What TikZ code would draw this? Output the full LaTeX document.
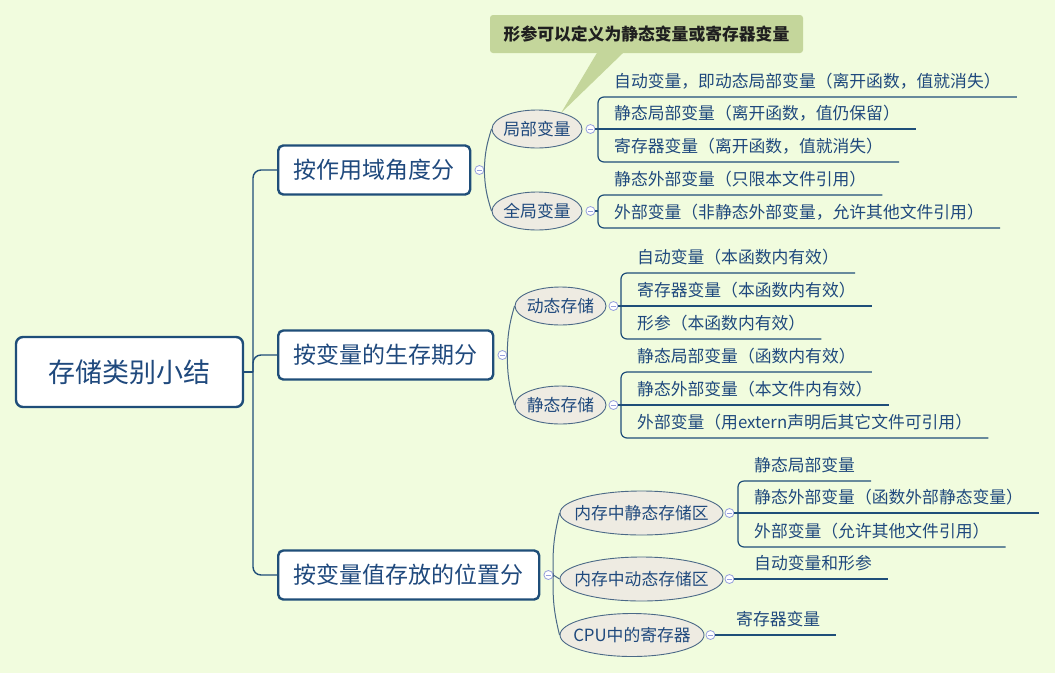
\documentclass[tikz,border=0pt]{standalone}
\usepackage{fontspec}
\usepackage{tikz}
\usetikzlibrary{shapes.geometric}
\newfontfamily\cjk{Noto Sans CJK SC}
\definecolor{bgcream}{RGB}{241,252,222}
\definecolor{deepblue}{RGB}{31,78,121}
\definecolor{inkblue}{RGB}{31,73,125}
\definecolor{slateline}{RGB}{75,105,135}
\definecolor{paperbeige}{RGB}{238,235,226}
\definecolor{calloutgreen}{RGB}{196,214,155}
\definecolor{foldblue}{RGB}{150,160,220}

\tikzset{
  rootbox/.style={draw=deepblue, line width=2.4pt, fill=white, rounded corners=7pt, text=inkblue,
    font=\cjk\fontsize{27}{30}\selectfont, minimum width=227pt, minimum height=70pt, inner sep=0pt},
  topicbox/.style={draw=deepblue, line width=2.4pt, fill=white, rounded corners=5pt, text=inkblue,
    font=\cjk\fontsize{23}{26}\selectfont, inner xsep=15.5pt, minimum height=49pt, anchor=west},
  subellipse/.style={ellipse, draw=slateline, line width=0.9pt, fill=paperbeige, text=inkblue,
    font=\cjk\fontsize{16.8}{19}\selectfont, inner xsep=-10pt, inner ysep=0pt, minimum height=38pt},
  leaf/.style={anchor=south west, text=inkblue, font=\cjk\fontsize{16.8}{19}\selectfont,
    text height=13pt, text depth=3pt, inner xsep=16pt, inner ysep=6.5pt},
  foldmark/.style={circle, draw=foldblue, fill=white, line width=0.8pt, minimum size=9pt, inner sep=0pt,
    path picture={\draw[foldblue, line width=0.8pt] ([xshift=-2.5pt]path picture bounding box.center)
      -- ([xshift=2.5pt]path picture bounding box.center);}},
  trunk/.style={deepblue, line width=1.4pt},
  twig/.style={slateline, line width=1pt},
  bracket/.style={deepblue, line width=1.2pt},
}

\begin{document}
\begin{tikzpicture}[x=1pt,y=-1pt]
\useasboundingbox (0,0) rectangle (1055,673);
\fill[bgcream] (0,0) rectangle (1055,673);

% root and main branches
\node[rootbox] (root) at (129.5,372) {存储类别小结};
\node[topicbox] (scopebox) at (277,170) {按作用域角度分};
\node[topicbox] (lifebox) at (277,355) {按变量的生存期分};
\node[topicbox] (placebox) at (277,575) {按变量值存放的位置分};

\coordinate (hub) at (253,372);
\draw[trunk] (root.east) -- (hub);
\draw[trunk, rounded corners=8pt] (hub) |- (scopebox.west);
\draw[trunk, rounded corners=8pt] (hub) |- (lifebox.west);
\draw[trunk, rounded corners=8pt] (hub) |- (placebox.west);

\node[foldmark] (scopefold) at ([xshift=8pt]scopebox.east) {};
\node[foldmark] (lifefold) at ([xshift=8pt]lifebox.east) {};
\node[foldmark] (placefold) at ([xshift=8pt]placebox.east) {};

% callout
\node[fill=calloutgreen, rounded corners=3pt, text=black!88, font=\cjk\bfseries\fontsize{16.8}{19}\selectfont,
  minimum width=313pt, minimum height=38pt, inner sep=0pt] (note) at (646.5,34) {形参可以定义为静态变量或寄存器变量};
\coordinate (notetip) at (561,113);
\fill[calloutgreen] ([xshift=107pt]note.south west) -- ([xshift=133pt]note.south west) -- (notetip) -- cycle;

% second level
\node[subellipse, minimum width=90pt] (localvar) at (537,129) {局部变量};
\node[subellipse, minimum width=90pt] (globalvar) at (537,211) {全局变量};
\node[subellipse, minimum width=91pt] (dynstore) at (560.5,306) {动态存储};
\node[subellipse, minimum width=91pt] (statstore) at (560.5,405) {静态存储};
\node[subellipse, minimum width=163pt, minimum height=44pt] (statarea) at (641.5,513) {内存中静态存储区};
\node[subellipse, minimum width=163pt, minimum height=44pt] (dynarea) at (641.5,579) {内存中动态存储区};
\node[subellipse, minimum width=144pt, minimum height=43pt] (cpureg) at (632,635) {CPU中的寄存器};

\draw[twig] (scopefold.east) to[bend left=8] (localvar.west);
\draw[twig] (scopefold.east) to[bend right=8] (globalvar.west);
\draw[twig] (lifefold.east) to[bend left=8] (dynstore.west);
\draw[twig] (lifefold.east) to[bend right=8] (statstore.west);
\draw[twig] (placefold.east) to[bend left=8] (statarea.west);
\draw[twig] (placefold.east) -- (dynarea.west);
\draw[twig] (placefold.east) to[bend right=8] (cpureg.west);

\node[foldmark] (localfold) at ([xshift=8pt]localvar.east) {};
\node[foldmark] (globalfold) at ([xshift=8pt]globalvar.east) {};
\node[foldmark] (dynfold) at ([xshift=7pt]dynstore.east) {};
\node[foldmark] (statfold) at ([xshift=7pt]statstore.east) {};
\node[foldmark] (statareafold) at ([xshift=6pt]statarea.east) {};
\node[foldmark] (dynareafold) at ([xshift=6pt]dynarea.east) {};
\node[foldmark] (cpufold) at ([xshift=6pt]cpureg.east) {};

% leaves
\node[leaf] (autolocal) at (598,97) {自动变量，即动态局部变量（离开函数，值就消失）};
\node[leaf] (staticlocal) at (598,129) {静态局部变量（离开函数，值仍保留）};
\node[leaf] (reglocal) at (598,162) {寄存器变量（离开函数，值就消失）};
\node[leaf] (staticext) at (598,195) {静态外部变量（只限本文件引用）};
\node[leaf] (plainext) at (598,228) {外部变量（非静态外部变量，允许其他文件引用）};

\node[leaf] (autolife) at (621,273) {自动变量（本函数内有效）};
\node[leaf] (reglife) at (621,306) {寄存器变量（本函数内有效）};
\node[leaf] (paramlife) at (621,339) {形参（本函数内有效）};
\node[leaf] (statlocallife) at (621,372) {静态局部变量（函数内有效）};
\node[leaf] (statextlife) at (621,405) {静态外部变量（本文件内有效）};
\node[leaf] (externlife) at (621,438) {外部变量（用extern声明后其它文件可引用）};

\node[leaf] (arealocal) at (738,481) {静态局部变量};
\node[leaf] (areastatext) at (738,513) {静态外部变量（函数外部静态变量）};
\node[leaf] (areaext) at (738,547) {外部变量（允许其他文件引用）};
\node[leaf] (areaauto) at (738,579) {自动变量和形参};
\node[leaf] (areareg) at (720,635) {寄存器变量};

% brackets and underlines
\draw[bracket] (localfold.east) -- (staticlocal.south east);
\draw[bracket, rounded corners=6pt] (localfold.east -| autolocal.south west) |- (autolocal.south east);
\draw[bracket, rounded corners=6pt] (localfold.east -| reglocal.south west) |- (reglocal.south east);

\draw[bracket] (globalfold.east) -- (globalfold.east -| staticext.south west);
\draw[bracket, rounded corners=6pt] (globalfold.east -| staticext.south west) |- (staticext.south east);
\draw[bracket, rounded corners=6pt] (globalfold.east -| plainext.south west) |- (plainext.south east);

\draw[bracket] (dynfold.east) -- (reglife.south east);
\draw[bracket, rounded corners=6pt] (dynfold.east -| autolife.south west) |- (autolife.south east);
\draw[bracket, rounded corners=6pt] (dynfold.east -| paramlife.south west) |- (paramlife.south east);

\draw[bracket] (statfold.east) -- (statextlife.south east);
\draw[bracket, rounded corners=6pt] (statfold.east -| statlocallife.south west) |- (statlocallife.south east);
\draw[bracket, rounded corners=6pt] (statfold.east -| externlife.south west) |- (externlife.south east);

\draw[bracket] (statareafold.east) -- (areastatext.south east);
\draw[bracket, rounded corners=6pt] (statareafold.east -| arealocal.south west) |- (arealocal.south east);
\draw[bracket, rounded corners=6pt] (statareafold.east -| areaext.south west) |- (areaext.south east);

\draw[bracket] (dynareafold.east) -- (areaauto.south east);
\draw[bracket] (cpufold.east) -- (areareg.south east);
\end{tikzpicture}
\end{document}
